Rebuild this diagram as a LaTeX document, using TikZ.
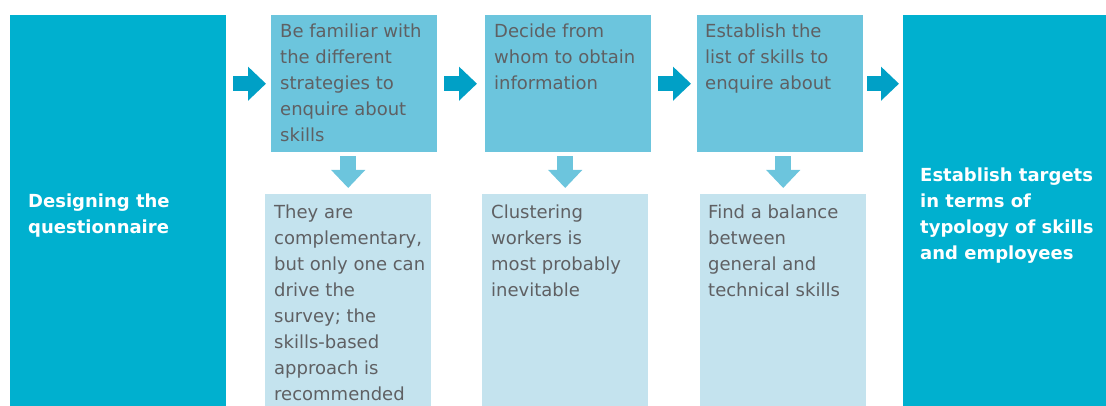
\documentclass[tikz,border=0pt]{standalone}
\usepackage{fontspec}
\setmainfont{DejaVu Sans}
\usetikzlibrary{arrows.meta}
\definecolor{deepteal}{HTML}{00B0CF}
\definecolor{steptint}{HTML}{6CC5DD}
\definecolor{notetint}{HTML}{C4E3EE}
\definecolor{arrowteal}{HTML}{00A0C6}
\definecolor{greytext}{HTML}{5F6063}
\tikzset{
  bigbox/.style={rectangle,fill=deepteal,anchor=north west,inner sep=0pt},
  stepbox/.style={rectangle,fill=steptint,anchor=north west,inner sep=0pt,
    minimum width=166pt,minimum height=137pt},
  notebox/.style={rectangle,fill=notetint,anchor=north west,inner sep=0pt,
    minimum width=166pt,minimum height=212pt},
  % anchor = baseline of the last line
  plaintext/.style={anchor=base west,align=left,inner sep=0pt,text=greytext,
    font=\fontsize{18}{26}\selectfont},
  boldtext/.style={anchor=base west,align=left,inner sep=0pt,text=white,
    font=\fontsize{18}{26}\selectfont\bfseries},
  rarrow/.style={draw=arrowteal,line width=15pt,-{Triangle[width=33pt,length=18pt]},
    shorten <=7pt,shorten >=5pt},
  darrow/.style={draw=steptint,line width=16pt,-{Triangle[width=33pt,length=18pt]},
    shorten <=4pt,shorten >=6pt}
}
\begin{document}
\begin{tikzpicture}[x=1pt,y=-1pt]
  \useasboundingbox (0,0) rectangle (1106,406);

  % — Outer blocks
  \node[bigbox,minimum width=216pt,minimum height=391pt] (design) at (10,15) {};
  \node[bigbox,minimum width=203pt,minimum height=391pt] (target) at (903,15) {};

  % — Steps (top row)
  \node[stepbox] (fam)  at (271,15) {};
  \node[stepbox] (whom) at (485,15) {};
  \node[stepbox] (list) at (697,15) {};

  % — Notes (bottom row)
  \node[notebox] (compl) at (265,194) {};
  \node[notebox] (clust) at (482,194) {};
  \node[notebox] (bal)   at (700,194) {};

  % — Texts
  \node[boldtext] (designt) at (28,234) {Designing the\\questionnaire};
  \node[boldtext] (targett) at (920,260) {Establish targets\\in terms of\\typology of skills\\and employees};
  \node[plaintext] (famt)  at (280,142) {Be familiar with\\the different\\strategies to\\enquire about\\skills};
  \node[plaintext] (whomt) at (494,90) {Decide from\\whom to obtain\\information};
  \node[plaintext] (listt) at (705,90) {Establish the\\list of skills to\\enquire about};
  \node[plaintext] (complt) at (274,400) {They are\\complementary,\\but only one can\\drive the\\survey; the\\skills-based\\approach is\\recommended};
  \node[plaintext] (clustt) at (491,296) {Clustering\\workers is\\most probably\\inevitable};
  \node[plaintext] (balt)   at (708,296) {Find a balance\\between\\general and\\technical skills};

  % — Arrows along the row
  \draw[rarrow] (design.east |- fam.west) -- (fam.west);
  \draw[rarrow,shorten >=8pt] (fam.east) -- (whom.west);
  \draw[rarrow,shorten >=6pt] (whom.east) -- (list.west);
  \draw[rarrow,shorten <=4pt,shorten >=4pt] (list.east) -- (target.west |- list.east);

  % — Arrows down to the notes
  \draw[darrow] (fam.south -| compl.north) -- (compl.north);
  \draw[darrow] (whom.south -| clust.north) -- (clust.north);
  \draw[darrow] (list.south -| bal.north) -- (bal.north);
\end{tikzpicture}
\end{document}
